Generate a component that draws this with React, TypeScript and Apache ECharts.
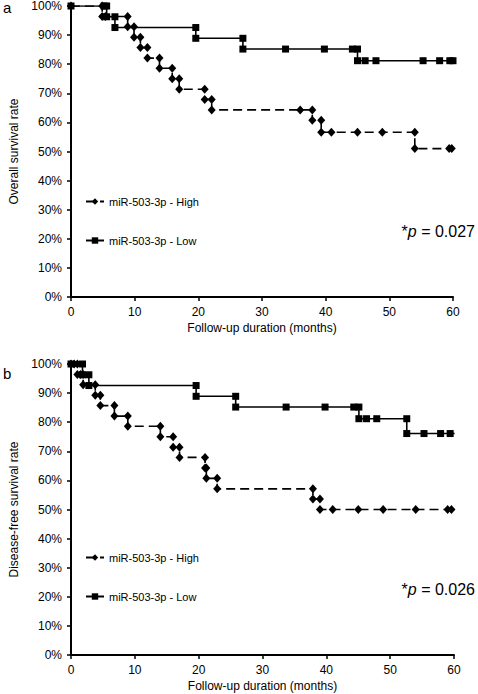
import React, { useEffect, useRef } from "react";
import * as echarts from "echarts";

// ---- Data (months, % surviving) ----
const xTicks = [0, 10, 20, 30, 40, 50, 60];
const seriesNames = ["miR-503-3p - High", "miR-503-3p - Low"];

// (a) Overall survival
const osHighTime = [0, 4.9, 4.9, 5.4, 8.9, 8.9, 9.9, 9.9, 10.9, 10.9, 12.0, 12.0, 13.9, 13.9, 15.9, 15.9, 17.0, 17.0, 21.0, 21.0, 22.1, 22.1, 36.0, 37.9, 37.9, 39.3, 39.3, 40.9, 45.0, 48.9, 54.0, 54.0, 59.4, 59.8, 60.1];
const osHighSurv = [100, 100, 96.4, 96.4, 96.4, 92.9, 92.9, 89.3, 89.3, 85.7, 85.7, 82.1, 82.1, 78.6, 78.6, 75.0, 75.0, 71.4, 71.4, 67.9, 67.9, 64.3, 64.3, 64.3, 60.7, 60.7, 56.6, 56.6, 56.6, 56.6, 56.6, 51.0, 51.0, 51.0, 51.0];
const osLowTime = [0, 5.2, 5.6, 5.6, 6.9, 6.9, 19.6, 19.6, 27.0, 27.0, 33.7, 39.8, 44.2, 45.0, 45.0, 46.2, 47.9, 55.3, 57.9, 59.5, 60.0];
const osLowSurv = [100, 100, 100, 96.3, 96.3, 92.6, 92.6, 88.9, 88.9, 85.2, 85.2, 85.2, 85.2, 85.2, 81.2, 81.2, 81.2, 81.2, 81.2, 81.2, 81.2];

// (b) Disease-free survival
const dfsHighTime = [0, 0.5, 1.0, 1.0, 1.5, 1.9, 1.9, 3.8, 3.8, 4.6, 4.6, 6.8, 6.8, 8.9, 8.9, 14.0, 14.0, 16.0, 16.0, 17.0, 17.0, 21.0, 21.0, 21.2, 21.2, 22.9, 22.9, 37.9, 37.9, 39.0, 39.0, 41.0, 45.0, 48.9, 54.0, 59.0, 59.6, 60.1];
const dfsHighSurv = [100, 100, 100, 96.4, 96.4, 96.4, 92.9, 92.9, 89.3, 89.3, 85.7, 85.7, 82.1, 82.1, 78.6, 78.6, 75.0, 75.0, 71.4, 71.4, 67.9, 67.9, 64.3, 64.3, 60.7, 60.7, 57.1, 57.1, 53.6, 53.6, 50.0, 50.0, 50.0, 50.0, 50.0, 50.0, 50.0, 50.0];
const dfsLowTime = [0, 1.8, 1.8, 2.8, 2.8, 19.6, 19.6, 25.8, 25.8, 33.7, 39.8, 44.3, 45.1, 45.1, 46.3, 47.9, 52.6, 52.6, 55.3, 57.9, 59.4, 60.1];
const dfsLowSurv = [100, 100, 96.3, 96.3, 92.6, 92.6, 88.9, 88.9, 85.2, 85.2, 85.2, 85.2, 85.2, 81.2, 81.2, 81.2, 81.2, 76.1, 76.1, 76.1, 76.1, 76.1];

const pValues = ["0.027", "0.026"];
const yTitles = ["Overall survival rate", "Disease-free survival rate"];
const panelLetters = ["a", "b"];

const zip = (t: number[], s: number[]) => t.map((v, i) => [v, s[i]]);

const FONT = "'Liberation Sans', Arial, sans-serif";

export default function App() {
  const ref = useRef<HTMLDivElement>(null);
  useEffect(() => {
    if (!ref.current) return;
    const chart = echarts.init(ref.current, undefined, { renderer: "svg" });
    const grids = [
      { left: 58, top: 6, width: 395, height: 291 },
      { left: 58, top: 364, width: 396, height: 291 },
    ];
    const mkX = (i: number) => ({
      type: "value",
      gridIndex: i,
      min: 0,
      max: 60,
      interval: 10,
      axisLine: { lineStyle: { color: "#000", width: 2 } },
      axisTick: { show: true, length: 4, lineStyle: { color: "#000", width: 1.5 } },
      axisLabel: { color: "#000", fontSize: 12, margin: 9, fontFamily: FONT,
        formatter: (v: number) => (xTicks.includes(v) ? String(v) : "") },
      splitLine: { show: false },
      name: "Follow-up duration (months)",
      nameLocation: "middle",
      nameGap: 25,
      nameTextStyle: { color: "#000", fontSize: 12, fontFamily: FONT },
    });
    const mkY = (i: number) => ({
      type: "value",
      gridIndex: i,
      min: 0,
      max: 100,
      interval: 10,
      axisLine: { show: true, lineStyle: { color: "#000", width: 2 } },
      axisTick: { show: true, length: 4, lineStyle: { color: "#000", width: 1.5 } },
      axisLabel: { color: "#000", fontSize: 12, margin: 9, formatter: "{value}%", fontFamily: FONT },
      splitLine: { show: false },
      name: yTitles[i],
      nameLocation: "middle",
      nameRotate: 90,
      nameGap: 51,
      nameTextStyle: { color: "#000", fontSize: 12, fontFamily: FONT },
    });
    const highStyle = (data: number[][], i: number) => ({
      name: seriesNames[0],
      type: "line",
      xAxisIndex: i,
      yAxisIndex: i,
      data,
      symbol: "diamond",
      symbolSize: [8, 9],
      itemStyle: { color: "#000" },
      lineStyle: { color: "#000", width: 1.6, type: [9, 5] },
      z: 3,
    });
    const lowStyle = (data: number[][], i: number) => ({
      name: seriesNames[1],
      type: "line",
      xAxisIndex: i,
      yAxisIndex: i,
      data,
      symbol: "rect",
      symbolSize: 7,
      itemStyle: { color: "#000" },
      lineStyle: { color: "#000", width: 1.6, type: "solid" },
      z: 4,
    });
    const legendBase = {
      orient: "vertical",
      left: 80,
      itemGap: 28,
      itemWidth: 18,
      itemHeight: 8,
      selectedMode: false,
      textStyle: { color: "#000", fontSize: 11, fontFamily: FONT },
      data: seriesNames,
    };
    const pText = (i: number, y: number) => ({
      type: "text",
      right: 3,
      top: y,
      style: {
        text: "{s|*}{p|p}{s| = " + pValues[i] + "}",
        rich: {
          s: { fontSize: 16, fontFamily: FONT, fill: "#000" },
          p: { fontSize: 16, fontFamily: FONT, fontStyle: "italic", fill: "#000" },
        },
      },
    });
    const option = {
      animation: false,
      textStyle: { fontFamily: FONT },
      grid: grids,
      xAxis: [mkX(0), mkX(1)],
      yAxis: [mkY(0), mkY(1)],
      legend: [
        { ...legendBase, top: 191 },
        { ...legendBase, top: 547 },
      ],
      series: [
        highStyle(zip(osHighTime, osHighSurv), 0),
        lowStyle(zip(osLowTime, osLowSurv), 0),
        highStyle(zip(dfsHighTime, dfsHighSurv), 1),
        lowStyle(zip(dfsLowTime, dfsLowSurv), 1),
      ],
      graphic: [
        { type: "text", left: 3, top: 0, style: { text: panelLetters[0], fontSize: 15, fontFamily: FONT, fill: "#000" } },
        { type: "text", left: 3, top: 366, style: { text: panelLetters[1], fontSize: 15, fontFamily: FONT, fill: "#000" } },
        pText(0, 223),
        pText(1, 581),
      ],
    };
    chart.setOption(option as any);
    return () => chart.dispose();
  }, []);
  return (
    <div
      ref={ref}
      style={{ position: "absolute", left: 0, top: 0, width: 478, height: 694, background: "#fff" }}
    />
  );
}
